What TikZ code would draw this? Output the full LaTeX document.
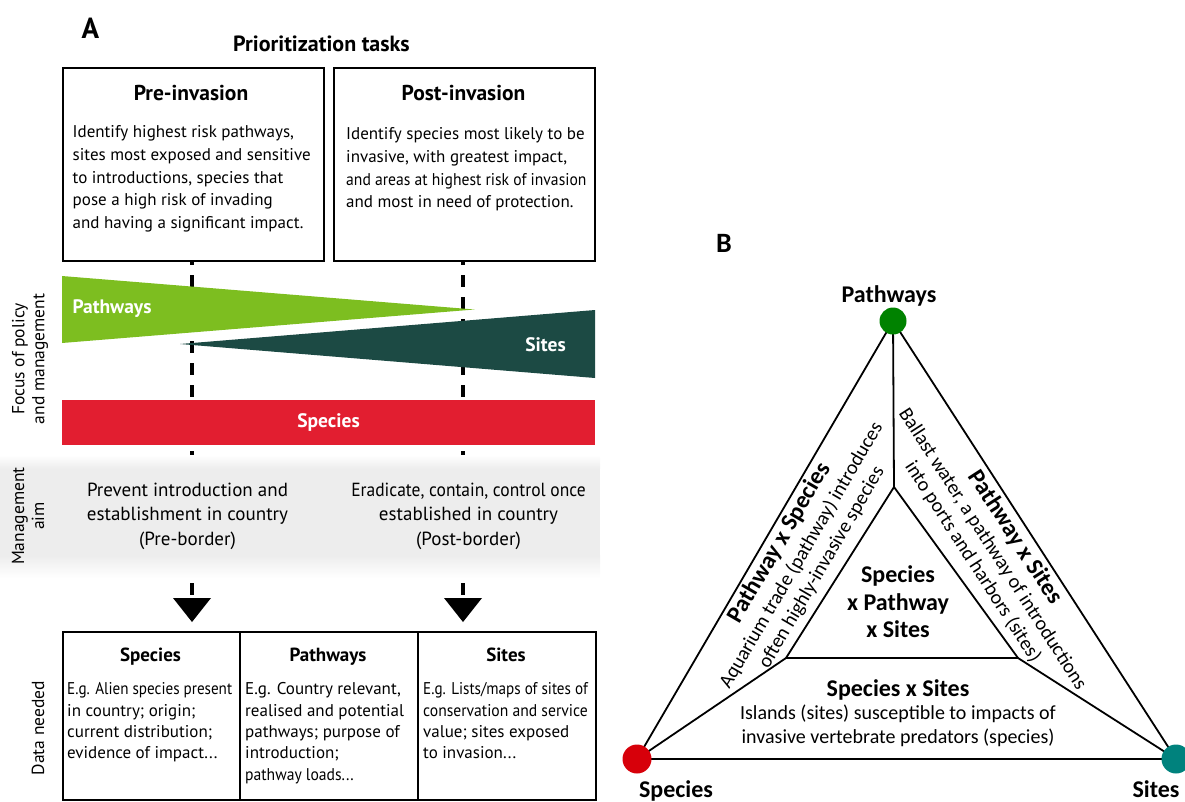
\documentclass[tikz,border=0pt]{standalone}
\usepackage{fontspec}
\setmainfont{PT Sans}
\newfontfamily\narrowsans[FakeStretch=0.92]{PT Sans}
\newfontfamily\narrowersans[FakeStretch=0.89]{PT Sans}
\newfontfamily\calib{Carlito}
\usetikzlibrary{calc}
\pgfdeclarelayer{background}
\pgfsetlayers{background,main}
\definecolor{pathgreen}{RGB}{125,190,32}
\definecolor{siteteal}{RGB}{28,74,68}
\definecolor{specred}{RGB}{226,30,48}
\definecolor{dotgreen}{RGB}{0,130,0}
\definecolor{dotred}{RGB}{215,0,10}
\definecolor{dotteal}{RGB}{0,130,125}
\definecolor{bandgray}{RGB}{237,237,237}
\begin{document}
\begin{tikzpicture}[x=1pt,y=-1pt,
  every node/.style={inner sep=0pt},
  taskbox/.style={draw, line width=1.5pt, minimum width=261pt, minimum height=193pt, anchor=north west},
  cellbox/.style={draw, line width=1.5pt, minimum height=168pt, anchor=north west},
  guide/.style={line width=3.6pt, dash pattern=on 12pt off 10pt, dash phase=7pt},
  panel/.style={font=\fontsize{29}{30}\selectfont\bfseries, anchor=base},
  headA/.style={font=\fontsize{21.5}{24}\selectfont\bfseries, anchor=base},
  bodyA/.style={font=\fontsize{17}{22.7}\selectfont, align=left, anchor=north west},
  aimtxt/.style={font=\fontsize{19}{24.5}\selectfont, align=center, anchor=north},
  sidelab/.style={font=\fontsize{17.5}{20}\selectfont, align=center, rotate=90},
  barlab/.style={text=white, font=\fontsize{19.5}{22}\selectfont\bfseries},
  colhead/.style={font=\fontsize{19}{22}\selectfont\bfseries, anchor=base},
  colbody/.style={font=\fontsize{17}{21.3}\selectfont, align=left, anchor=north west},
  tri/.style={line width=1.8pt},
  vertex/.style={circle, minimum size=28pt},
  blab/.style={font=\calib\fontsize{24}{27}\selectfont\bfseries, anchor=base},
  bbold/.style={font=\calib\fontsize{24}{27.5}\selectfont\bfseries, align=center},
  bbody/.style={font=\calib\fontsize{20}{23.5}\selectfont, align=center}]
\useasboundingbox (0,0) rectangle (1185,801);

% ---------------- Panel A ----------------
\node[panel] (labA) at (90.5,38.5) {A};
\node[font=\fontsize{22}{24}\selectfont\bfseries, anchor=base] (prio) at (321.5,51) {Prioritization tasks};

\node[taskbox] (prebox) at (62,67) {};
\node[taskbox] (postbox) at (333,67) {};
\node[headA] (pretitle) at (191,100.5) {Pre-invasion};
\node[headA] (posttitle) at (463.5,100.5) {Post-invasion};
\node[bodyA] (pretext) at (72.5,125.5) {Identify highest risk pathways,\\
  sites most exposed and sensitive\\
  to introductions, species that\\
  pose a high risk of invading\\
  and having a significant impact.};
\node[bodyA] (posttext) at (346,127.5) {Identify species most likely to be\\
  invasive, with greatest impact,\\
  {\narrowsans and areas at highest risk of invasion}\\
  and most in need of protection.};

% dashed guides from the task boxes to the arrowheads
\coordinate (preTop) at (192,260);
\coordinate (postTop) at (463,260);
\coordinate (preTip) at (192,622);
\coordinate (postTip) at (463,622);
\draw[guide] (preTop) -- ($(preTip)+(0,-27)$);
\draw[guide] (postTop) -- ($(postTip)+(0,-27)$);

% focus wedges
\fill[pathgreen] (62,276) -- (474.5,309.5) -- (62,343) -- cycle;
\fill[siteteal] (180,344) -- (595,310) -- (595,378) -- cycle;
\node[barlab] (lpath) at (112,309) {Pathways};
\node[barlab] (lsites) at (545.5,345) {Sites};
\node[fill=specred, minimum width=533pt, minimum height=45pt, barlab] (specbar) at (328.5,422.5) {Species};

\node[sidelab] (focus) at (30,359) {Focus of policy\\and management};

% management aim band
\fill[bandgray] (0,468) rectangle (600,556);
\shade[top color=white, bottom color=bandgray] (0,455) rectangle (600,468.5);
\shade[top color=bandgray, bottom color=white] (0,555.5) rectangle (600,578);
\node[sidelab] (aimlab) at (28,516) {Management\\aim};
\node[aimtxt] (preaim) at (187.5,482.5) {Prevent introduction and\\establishment in country\\(Pre-border)};
\node[aimtxt] (postaim) at (468.5,482.5) {{\narrowsans Eradicate, contain, control once}\\established in country\\(Post-border)};

% arrowheads
\fill (preTip) -- ++(-19,-24) -- ++(38,0) -- cycle;
\fill (postTip) -- ++(-19,-24) -- ++(38,0) -- cycle;

% data table
\node[cellbox, minimum width=177pt] (cellsp) at (62,631) {};
\node[cellbox, minimum width=178pt] (cellpw) at (239,631) {};
\node[cellbox, minimum width=178pt] (cellst) at (417,631) {};
\node[colhead] (hsp) at (150.5,661.5) {Species};
\node[colhead] (hpw) at (328,661.5) {Pathways};
\node[colhead] (hst) at (506,661.5) {Sites};
\node[colbody] (bsp) at (67,682.5) {{\narrowersans E.g. Alien species present}\\
  in country; origin;\\
  current distribution;\\
  evidence of impact...};
\node[colbody] (bpw) at (245,682.5) {E.g. Country relevant,\\
  realised and potential\\
  pathways; purpose of\\
  introduction;\\
  {\narrowsans pathway loads...}};
\node[colbody] (bst) at (423,682.5) {{\narrowersans E.g. Lists/maps of sites of}\\
  {\narrowsans conservation and service}\\
  value; sites exposed\\
  to invasion...};
\node[sidelab] (datalab) at (38,728) {Data needed};

% ---------------- Panel B ----------------
\node[font=\calib\fontsize{28}{30}\selectfont\bfseries, anchor=base] (labB) at (724,252) {B};

\node[vertex, fill=dotgreen, minimum size=27pt] (pw) at (893,321) {};
\node[vertex, fill=dotred, minimum size=29pt] (sp) at (637,759) {};
\node[vertex, fill=dotteal, minimum size=29pt] (st) at (1176,759) {};
\coordinate (split) at (894,487);
\coordinate (inL) at (786,658);
\coordinate (inR) at (1018,658);

\begin{pgfonlayer}{background}
  \draw[tri] (pw.center) -- (sp.center) -- (st.center) -- cycle;
  \draw[tri] (pw.center) -- (split);
  \draw[tri] (split) -- (inL) -- (inR) -- cycle;
  \draw[tri] (inL) -- (sp.center);
  \draw[tri] (inR) -- (st.center);
\end{pgfonlayer}

\node[blab] (tpw) at (889,302) {Pathways};
\node[blab] (tsp) at (676,797) {Species};
\node[blab] (tst) at (1156,797) {Sites};

\node[bbold, rotate=59.7] (hps) at (779.5,543) {Pathway x Species};
\node[bbody, rotate=59.7] (tps) at (811.5,561.5) {Aquarium trade (pathway) introduces\\often highly-invasive species};
\node[bbold, rotate=-57.2] (hpst) at (1015,537.3) {Pathway x Sites};
\node[bbody, rotate=-57.2] (tpst) at (982.5,555.5) {Ballast water, a pathway of introductions\\into ports and harbors (sites)};

\node[bbold] (hall) at (898,602) {Species\\x Pathway\\x Sites};
\node[blab] (hss) at (898,696) {Species x Sites};
\node[bbody] (tss) at (898,726) {Islands (sites) susceptible to impacts of\\invasive vertebrate predators (species)};
\end{tikzpicture}
\end{document}
